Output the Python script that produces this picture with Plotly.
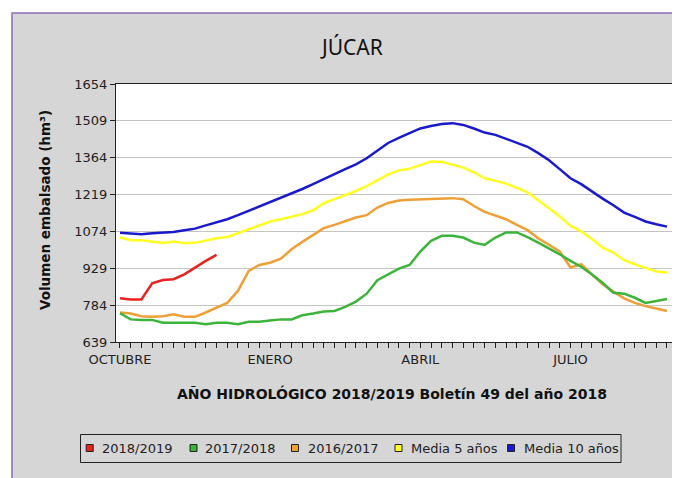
import plotly.graph_objects as go

weeks = list(range(1, 53))

s2018_19 = [811, 806, 806, 870, 883, 886, 905, 932, 958, 982]

s2017_18 = [752, 728, 726, 726, 715, 715, 715, 715, 709, 715, 715, 709, 719, 719, 724, 728,
            728, 744, 751, 759, 761, 777, 798, 829, 882, 904, 928, 942, 995, 1037, 1057, 1057,
            1050, 1030, 1021, 1050, 1070, 1070, 1052, 1030, 1008, 984, 958, 935, 905, 872, 833,
            829, 813, 793, 800, 808]

s2016_17 = [755, 751, 740, 738, 740, 748, 738, 738, 755, 774, 793, 840, 919, 942, 951, 967,
            1004, 1033, 1059, 1087, 1100, 1115, 1129, 1138, 1168, 1186, 1196, 1199, 1201, 1201,
            1203, 1205, 1201, 1174, 1151, 1138, 1122, 1100, 1079, 1047, 1021, 995, 932, 945, 905,
            866, 837, 811, 793, 780, 771, 761]

media5 = [1050, 1039, 1039, 1034, 1029, 1034, 1028, 1029, 1037, 1047, 1052, 1067, 1085, 1100,
          1113, 1122, 1131, 1142, 1157, 1185, 1201, 1216, 1233, 1252, 1275, 1298, 1314, 1321,
          1335, 1349, 1348, 1338, 1325, 1306, 1283, 1273, 1262, 1245, 1228, 1197, 1165, 1133,
          1096, 1074, 1044, 1010, 991, 961, 945, 932, 916, 912]

media10 = [1069, 1065, 1063, 1067, 1068, 1072, 1079, 1085, 1098, 1109, 1122, 1138, 1155, 1170,
           1188, 1205, 1223, 1241, 1260, 1281, 1299, 1319, 1338, 1362, 1393, 1422, 1442, 1459,
           1479, 1489, 1497, 1500, 1493, 1479, 1463, 1454, 1439, 1421, 1407, 1382, 1354, 1319,
           1283, 1260, 1231, 1203, 1177, 1148, 1131, 1113, 1102, 1093]

y_ticks = [639, 784, 929, 1074, 1219, 1364, 1509, 1654]
month_ticks = [1, 15, 29, 43]
month_labels = ["OCTUBRE", "ENERO", "ABRIL", "JULIO"]

series_names = ["2018/2019", "2017/2018", "2016/2017", "Media 5 años", "Media 10 años"]
series_values = [s2018_19, s2017_18, s2016_17, media5, media10]
series_colors = ["#e8231f", "#3cb43c", "#eea036", "#ffff22", "#1a1acc"]

FONT = "DejaVu Sans"
BG = "#d6d6d6"
OFF = 8  # page body margin
W, H = 672, 470
# plot area in screenshot pixels
PL, PR, PT, PB = 116, 673, 84, 342
ML, MT = PL - OFF, PT - OFF
MR, MB = W - (PR - OFF), H - (PB - OFF)
PW, PH = PR - PL, PB - PT


def px(xs):
    return (xs - PL) / PW


def py(ys):
    return (PB - ys) / PH


fig = go.Figure()
for name, vals, col in reversed(list(zip(series_names, series_values, series_colors))):
    fig.add_trace(go.Scatter(x=weeks[:len(vals)], y=vals, mode="lines", name=name,
                             line=dict(color=col, width=2.5), showlegend=False,
                             hoverinfo="skip"))

shapes = [
    dict(type="rect", xref="paper", yref="paper", x0=px(12), x1=px(700), y0=py(500),
         y1=py(13), fillcolor=BG, line=dict(color="#8c6bb1", width=1.5), layer="below"),
    dict(type="rect", xref="paper", yref="paper", x0=0, x1=1, y0=0, y1=1,
         fillcolor="white", line=dict(width=0), layer="below"),
    dict(type="rect", xref="paper", yref="paper", x0=px(80.5), x1=px(621), y0=py(462.5),
         y1=py(434.5), fillcolor=BG, line=dict(color="#222222", width=1)),
]
annotations = [
    dict(text="JÚCAR", xref="paper", yref="paper", x=px(351), y=py(47), xanchor="center",
         yanchor="middle", showarrow=False,
         font=dict(family="Noto Sans", size=21, color="#111111")),
    dict(text="<b>AÑO HIDROLÓGICO 2018/2019 Boletín 49 del año 2018</b>", xref="paper",
         yref="paper", x=px(392), y=py(393), xanchor="center", yanchor="middle",
         showarrow=False, font=dict(family=FONT, size=14, color="#111111")),
    dict(text="<b>Volumen embalsado (hm³)</b>", xref="paper", yref="paper", x=px(45),
         y=py(210), xanchor="center", yanchor="middle", textangle=-90, showarrow=False,
         font=dict(family=FONT, size=13.5, color="#111111")),
]

sq_centers = [89.7, 193.5, 295, 398.5, 511]
txt_left = [99.5, 203, 305.5, 409, 521.5]
ly = 448
for name, col, sx, tx in zip(series_names, series_colors, sq_centers, txt_left):
    shapes.append(dict(type="rect", xref="paper", yref="paper", x0=px(sx - 3.5),
                       x1=px(sx + 3.5), y0=py(ly + 3.5), y1=py(ly - 3.5), fillcolor=col,
                       line=dict(color="#222222", width=1)))
    annotations.append(dict(text=name, xref="paper", yref="paper", x=px(tx), y=py(ly),
                            xanchor="left", yanchor="middle", showarrow=False,
                            font=dict(family=FONT, size=13, color="#222222")))

fig.update_layout(
    width=W, height=H,
    margin=dict(l=ML, r=MR, t=MT, b=MB, autoexpand=False),
    paper_bgcolor="white",
    plot_bgcolor="white",
    font=dict(family=FONT, size=13, color="#222222"),
    showlegend=False,
    shapes=shapes,
    annotations=annotations,
)

fig.update_xaxes(range=[0.63, 52.56], tickvals=month_ticks, ticktext=month_labels,
                 ticks="outside", ticklen=5, tickcolor="#222222", showgrid=False,
                 showline=True, linecolor="#222222", linewidth=1, mirror=True, zeroline=False,
                 minor=dict(tick0=1, dtick=1, ticks="outside", ticklen=5, tickcolor="#222222",
                            showgrid=False),
                 tickfont=dict(family=FONT, size=13, color="#222222"))
fig.update_yaxes(range=[639, 1654], tickvals=y_ticks, ticks="outside", ticklen=5,
                 tickcolor="#222222", showgrid=True, gridcolor="#c4c4c4", gridwidth=1,
                 showline=True, linecolor="#222222", linewidth=1, mirror=True, zeroline=False,
                 tickfont=dict(family=FONT, size=13, color="#222222"))

fig.write_html("out.html")
